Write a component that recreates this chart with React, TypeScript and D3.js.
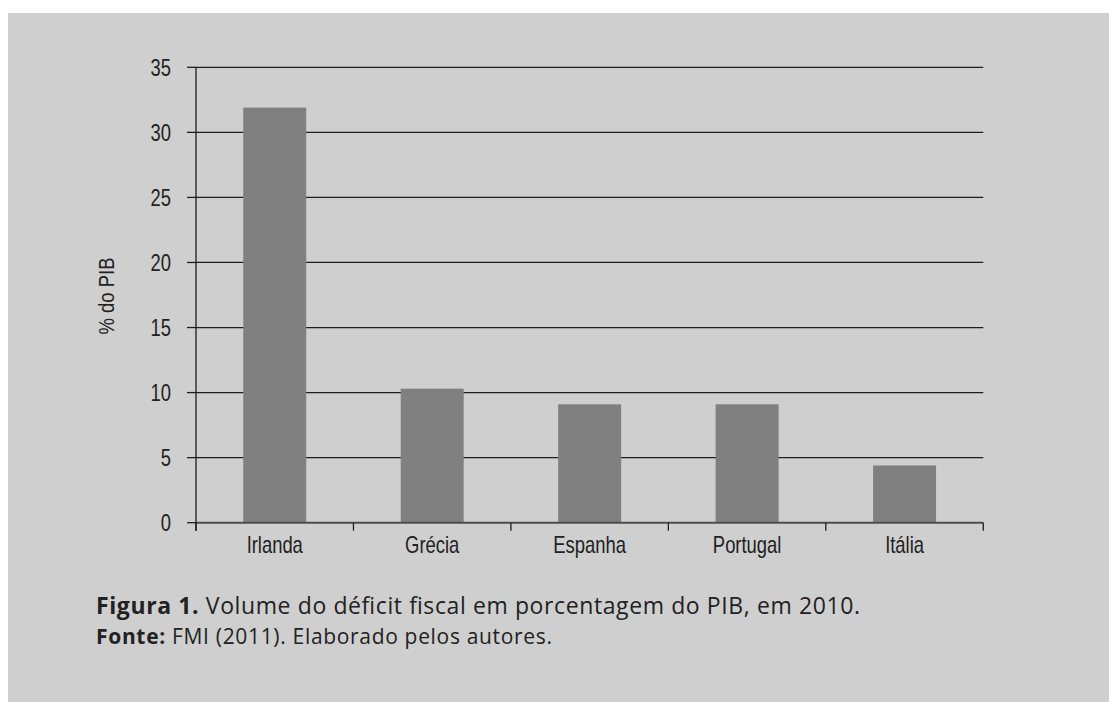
import React from "react";
import * as d3 from "d3";

const categories = ["Irlanda", "Grécia", "Espanha", "Portugal", "Itália"];
const values = [31.9, 10.3, 9.1, 9.1, 4.4];
const yTicks = [0, 5, 10, 15, 20, 25, 30, 35];
const yLabel = "% do PIB";
const captionBold = "Figura 1.";
const captionText = " Volume do déficit fiscal em porcentagem do PIB, em 2010.";
const sourceBold = "Fonte:";
const sourceText = " FMI (2011). Elaborado pelos autores.";

const W = 1109;
const H = 702;
const narrow = "'Liberation Sans', Arial, sans-serif";
const capFont = "'Open Sans', 'Noto Sans', sans-serif";
const SX = 0.8;

export default function App() {
  const left = 196;
  const right = 983.3;
  const top = 67.3;
  const bottom = 522.7;
  const x = d3.scaleBand<string>().domain(categories).range([left, right]).paddingInner(0.6).paddingOuter(0.3);
  const xb = d3.scaleBand<string>().domain(categories).range([left, right]);
  const y = d3.scaleLinear().domain([0, 35]).range([bottom, top]);
  const boundaries = categories.map((c) => xb(c) as number).concat([right]);

  return (
    <svg width={W} height={H} style={{ position: "absolute", left: 0, top: 0, display: "block" }}>
      <rect x={0} y={0} width={W} height={H} fill="#ffffff" />
      <rect x={8} y={13} width={W - 8} height={H - 13} fill="#cfcfcf" />
      {yTicks.filter((t) => t > 0).map((t) => (
        <line key={"g" + t} x1={left} x2={right} y1={y(t)} y2={y(t)} stroke="#1e1e1e" strokeWidth={1.3} />
      ))}
      {categories.map((c, i) => (
        <rect key={c} x={x(c)} y={y(values[i])} width={x.bandwidth()} height={y(0) - y(values[i])} fill="#808080" />
      ))}
      <line x1={left} x2={right} y1={y(0)} y2={y(0)} stroke="#4d4d4d" strokeWidth={2} />
      <line x1={left} x2={left} y1={top} y2={bottom + 8} stroke="#1e1e1e" strokeWidth={1.3} />
      {yTicks.map((t) => (
        <g key={"t" + t}>
          <line x1={187} x2={left} y1={y(t)} y2={y(t)} stroke="#1e1e1e" strokeWidth={1.3} />
          <text transform={`translate(171, ${y(t)}) scale(${SX}, 1)`} dy="0.36em" textAnchor="end" fontFamily={narrow} fontSize={23} fill="#222">
            {t}
          </text>
        </g>
      ))}
      {boundaries.map((b, i) => (
        <line key={"b" + i} x1={b} x2={b} y1={bottom} y2={bottom + 8} stroke="#1e1e1e" strokeWidth={1.3} />
      ))}
      {categories.map((c) => (
        <text key={"l" + c} transform={`translate(${(xb(c) as number) + xb.bandwidth() / 2}, 553) scale(${SX}, 1)`} textAnchor="middle" fontFamily={narrow} fontSize={23} fill="#222">
          {c}
        </text>
      ))}
      <text transform={`translate(114, 296) rotate(-90) scale(0.84, 1)`} textAnchor="middle" fontFamily={narrow} fontSize={22} fill="#222">
        {yLabel}
      </text>
      <text x={96} y={614} fontFamily={capFont} fontSize={23} fill="#222" textLength={764} lengthAdjust="spacing">
        <tspan fontWeight="bold">{captionBold}</tspan>
        <tspan>{captionText}</tspan>
      </text>
      <text x={96} y={644} fontFamily={capFont} fontSize={21} fill="#222" textLength={456} lengthAdjust="spacing">
        <tspan fontWeight="bold">{sourceBold}</tspan>
        <tspan>{sourceText}</tspan>
      </text>
    </svg>
  );
}
